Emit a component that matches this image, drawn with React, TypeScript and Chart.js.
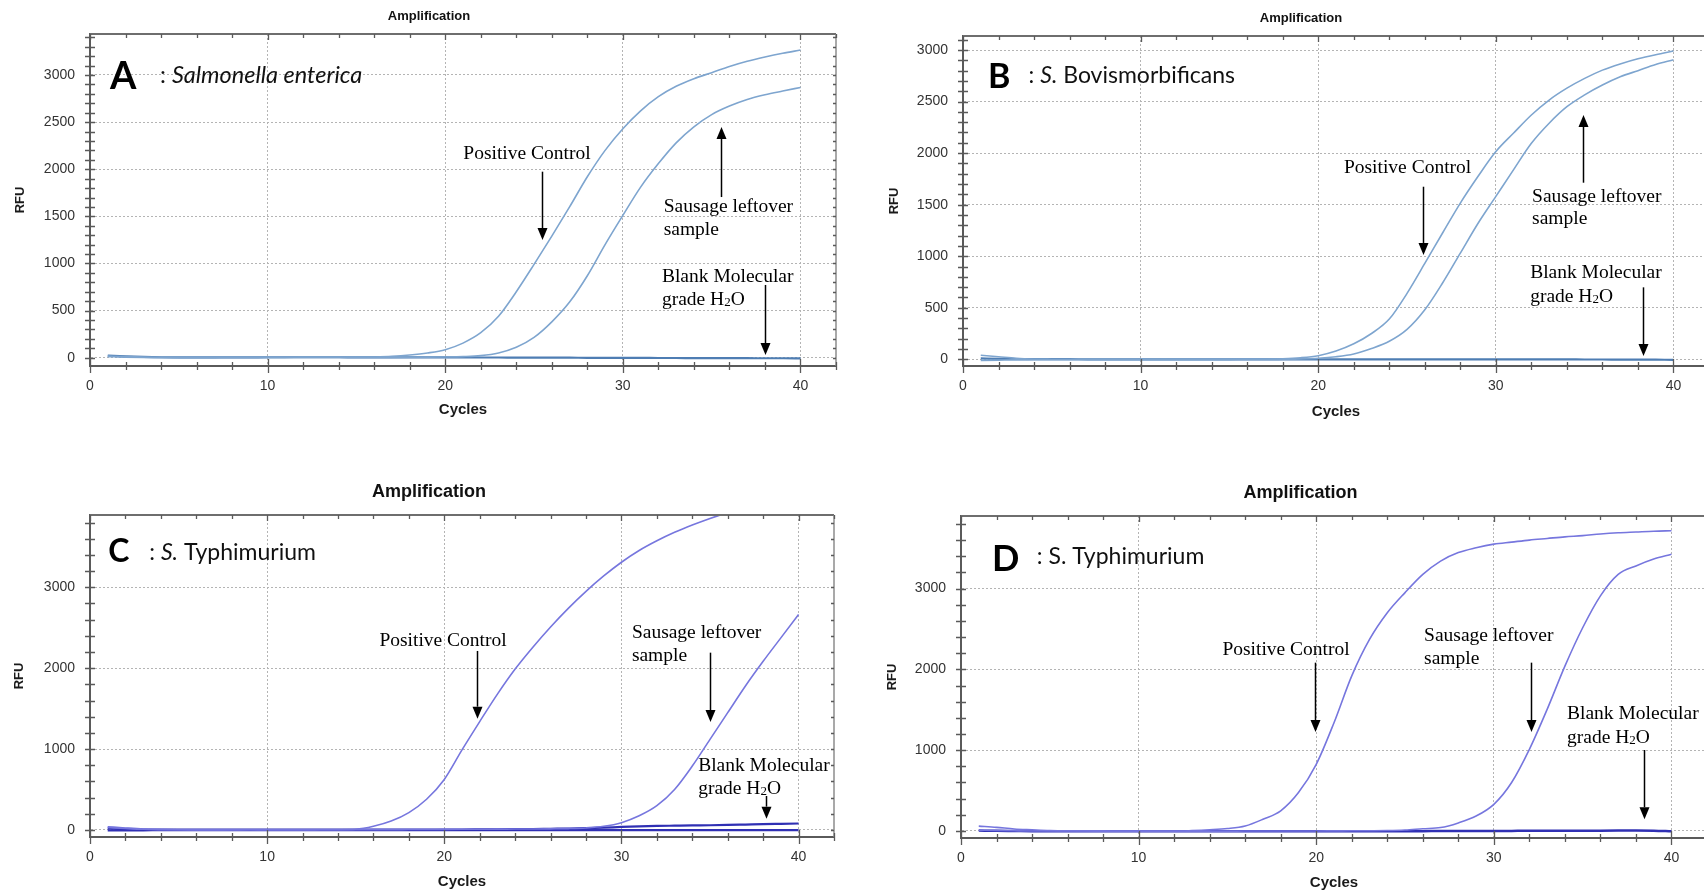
import React, { useEffect, useRef } from "react";
import { Chart, registerables } from "chart.js";

Chart.register(...registerables);

// ---------------- DATA ----------------
const cycles = [1, 2, 3, 4, 5, 6, 7, 8, 9, 10, 11, 12, 13, 14, 15, 16, 17, 18, 19, 20, 21, 22, 23, 24, 25, 26, 27, 28, 29, 30, 31, 32, 33, 34, 35, 36, 37, 38, 39, 40];

const xTickValues = [0, 10, 20, 30, 40];
const yTicksAB = [0, 500, 1000, 1500, 2000, 2500, 3000];
const yTicksCD = [0, 1000, 2000, 3000];

// Panel A: Salmonella enterica
const aPositive = [18, 12, 8, 5, 4, 3, 3, 3, 4, 4, 4, 5, 5, 5, 6, 8, 14, 28, 50, 85, 155, 265, 440, 700, 990, 1290, 1600, 1920, 2200, 2430, 2620, 2770, 2880, 2960, 3025, 3090, 3145, 3190, 3230, 3265];
const aSausage = [12, 6, 2, 0, 0, 1, 1, 2, 2, 2, 2, 3, 3, 3, 3, 3, 4, 5, 6, 8, 12, 22, 50, 110, 215, 380, 590, 870, 1200, 1510, 1810, 2060, 2280, 2450, 2580, 2670, 2740, 2790, 2830, 2868];
const aBlank = [22, 14, 8, 5, 4, 3, 3, 4, 4, 5, 5, 5, 5, 5, 4, 4, 4, 4, 4, 3, 3, 2, 2, 1, 1, 0, 0, -1, -1, -2, -2, -3, -3, -4, -4, -5, -5, -6, -6, -7];

// Panel B: S. Bovismorbificans
const bPositive = [40, 25, 10, 3, 1, 0, 0, 0, 0, 0, 0, 0, 0, 1, 1, 2, 3, 6, 15, 35, 80, 150, 250, 390, 640, 930, 1225, 1515, 1775, 2015, 2195, 2370, 2515, 2630, 2725, 2805, 2865, 2915, 2955, 2990];
const bSausage = [-10, -8, -6, -5, -5, -4, -4, -4, -4, -4, -4, -3, -3, -3, -3, -2, -2, 0, 3, 10, 25, 52, 105, 175, 290, 480, 740, 1030, 1320, 1580, 1840, 2095, 2290, 2450, 2565, 2660, 2740, 2800, 2860, 2905];
const bBlank = [8, 5, 3, 2, 1, 1, 0, 0, 0, 0, 0, 0, 0, 0, 0, 0, 0, 0, 0, 0, 0, 0, 0, 0, 0, 0, 0, 0, 0, 0, 0, 0, -1, -1, -2, -2, -3, -3, -4, -5];

// Panel C: S. Typhimurium
const cPositive = [40, 25, 12, 5, 2, 1, 1, 2, 2, 1, 1, 1, 2, 3, 8, 45, 110, 215, 380, 625, 990, 1340, 1680, 1990, 2260, 2510, 2740, 2950, 3140, 3310, 3455, 3575, 3680, 3770, 3850, 3925, 3990, 4045, 4090, 4125];
const cSausage = [30, 18, 8, 4, 2, 1, 1, 1, 2, 2, 2, 3, 3, 3, 3, 4, 4, 5, 6, 7, 8, 9, 10, 11, 12, 14, 17, 25, 45, 90, 175, 300, 500, 790, 1120, 1450, 1780, 2085, 2375, 2665];
const cBlank = [20, 10, 5, 3, 3, 3, 3, 3, 3, 3, 3, 4, 4, 4, 4, 5, 5, 5, 6, 6, 6, 7, 8, 10, 12, 15, 18, 22, 28, 38, 45, 50, 53, 56, 58, 62, 67, 72, 76, 80];
const cBlank2 = [-5, -4, -4, -3, -3, -3, -3, -2, -2, -2, -2, -2, -2, -2, -2, -2, -2, -2, -2, -2, -2, -2, -2, -2, -2, -2, -2, -2, -2, -2, -2, -2, -2, -2, -2, -2, -2, -2, -2, -2];

// Panel D: S. Typhimurium
const dPositive = [60, 45, 25, 15, 6, 2, 1, 1, 0, 0, 0, -1, 5, 15, 30, 62, 145, 250, 475, 825, 1340, 1920, 2370, 2700, 2950, 3175, 3340, 3445, 3505, 3550, 3575, 3600, 3620, 3640, 3655, 3675, 3690, 3700, 3710, 3715];
const dSausage = [10, 5, 2, 0, 0, -1, -1, -2, -2, -2, -2, -2, -2, -2, -2, -1, -1, 0, 0, 0, 1, 2, 3, 5, 12, 28, 42, 100, 185, 330, 600, 1010, 1505, 2040, 2515, 2910, 3175, 3280, 3365, 3425];
const dBlank = [5, 2, 0, -2, -3, -3, -3, -3, -3, -3, -3, -3, -3, -3, -3, -3, -3, -3, -3, -3, -3, -3, -3, -2, -2, -2, -1, -1, 0, 0, 1, 2, 2, 3, 3, 4, 5, 6, 4, -4];

// ---------------- STYLE ----------------
const SERIF = '"Liberation Serif", "Times New Roman", serif';
const SANS = '"Liberation Sans", Arial, sans-serif';
const LABEL = 'Lato, "Open Sans", sans-serif';
const GRID = "#b4b4b4";
const AXIS = "#5a5a5a";

type Seg = { t: string; italic?: boolean; small?: boolean };
type Note = { lines: Seg[][]; x: number; ys: number[]; align: "left" | "center" };
type Arrow = { x: number; from: number; to: number };
type Series = { values: number[]; color: string; width: number };

type Panel = {
  left: number; top: number; w: number; h: number;
  L: number; T: number; R: number; B: number;
  yMin: number; yMax: number; yTicks: number[]; yMinor: number;
  series: Series[];
  title: { x: number; y: number; size: number };
  letter: { t: string; x: number; y: number; size: number };
  species: { x: number; y: number; size: number; segs: Seg[] };
  notes: Note[];
  arrows: Arrow[];
  rfuPad: number; cyclesPad: number;
};

const h2o: Seg[] = [{ t: "grade H" }, { t: "2", small: true }, { t: "O" }];
const noteSet = (pc: [number, number], s: [number, number, number], bl: [number, number, number]): Note[] => [
  { lines: [[{ t: "Positive Control" }]], x: pc[0], ys: [pc[1]], align: "center" },
  { lines: [[{ t: "Sausage leftover" }], [{ t: "sample" }]], x: s[0], ys: [s[1], s[2]], align: "left" },
  { lines: [[{ t: "Blank Molecular" }], h2o], x: bl[0], ys: [bl[1], bl[2]], align: "left" },
];

const blueAB = "#7ea5cf";
const blankAB = "#4e7db3";
const purple = "#7676de";
const blankCD = "#3030b4";

const panels: Panel[] = [
  {
    left: 0, top: 0, w: 852, h: 446, L: 90, T: 34, R: 836, B: 366,
    yMin: -88, yMax: 3435, yTicks: yTicksAB, yMinor: 100,
    series: [
      { values: aPositive, color: blueAB, width: 1.6 },
      { values: aSausage, color: blueAB, width: 1.6 },
      { values: aBlank, color: blankAB, width: 2.2 },
    ],
    title: { x: 429, y: 16.7, size: 13 },
    letter: { t: "A", x: 110, y: 89, size: 38 },
    species: { x: 160, y: 83, size: 23.5, segs: [{ t: ": " }, { t: "Salmonella enterica", italic: true }] },
    notes: noteSet([24.6, 2105], [32.3, 1549, 1302], [32.2, 806, 559]),
    arrows: [{ x: 25.44, from: 1974, to: 1249 }, { x: 35.54, from: 1705, to: 2448 }, { x: 38.03, from: 772, to: 29 }],
    rfuPad: 12.7, cyclesPad: 27,
  },
  {
    left: 852, top: 0, w: 860, h: 446, L: 111, T: 36, R: 857, B: 366,
    yMin: -65, yMax: 3136, yTicks: yTicksAB, yMinor: 100,
    series: [
      { values: bPositive, color: blueAB, width: 1.6 },
      { values: bSausage, color: blueAB, width: 1.6 },
      { values: bBlank, color: blankAB, width: 2.2 },
    ],
    title: { x: 449, y: 18.3, size: 13 },
    letter: { t: "B", x: 136, y: 88, size: 34 },
    species: { x: 176.6, y: 83, size: 23, segs: [{ t: ": " }, { t: "S.", italic: true }, { t: " Bovismorbificans" }] },
    notes: noteSet([25.03, 1804], [32.04, 1529, 1312], [31.93, 786, 559]),
    arrows: [{ x: 25.87, from: 1674, to: 1012 }, { x: 34.89, from: 1713, to: 2370 }, { x: 38.31, from: 698, to: 32 }],
    rfuPad: 34.2, cyclesPad: 25.3,
  },
  {
    left: 0, top: 446, w: 852, h: 446, L: 90, T: 69, R: 834, B: 391,
    yMin: -87, yMax: 3894, yTicks: yTicksCD, yMinor: 200,
    series: [
      { values: cPositive, color: purple, width: 1.6 },
      { values: cSausage, color: purple, width: 1.6 },
      { values: cBlank2, color: blankCD, width: 2.2 },
      { values: cBlank, color: blankCD, width: 2.2 },
    ],
    title: { x: 429, y: 45.7, size: 18 },
    letter: { t: "C", x: 108.3, y: 115.7, size: 32 },
    species: { x: 149.3, y: 114, size: 23, segs: [{ t: ": " }, { t: "S.", italic: true }, { t: " Typhimurium" }] },
    notes: noteSet([19.93, 2274], [30.59, 2377, 2089], [34.33, 729, 441]),
    arrows: [{ x: 21.86, from: 2213, to: 1376 }, { x: 35.0, from: 2192, to: 1335 }, { x: 38.16, from: 420, to: 140 }],
    rfuPad: 11.2, cyclesPad: 1,
  },
  {
    left: 852, top: 446, w: 860, h: 446, L: 109, T: 70, R: 855, B: 392,
    yMin: -87, yMax: 3898, yTicks: yTicksCD, yMinor: 200,
    series: [
      { values: dPositive, color: purple, width: 1.6 },
      { values: dSausage, color: purple, width: 1.6 },
      { values: dBlank, color: blankCD, width: 2.5 },
    ],
    title: { x: 448.4, y: 46.7, size: 18 },
    letter: { t: "D", x: 140, y: 125, size: 36 },
    species: { x: 184.8, y: 118.3, size: 23, segs: [{ t: ": S. Typhimurium" }] },
    notes: noteSet([18.3, 2174], [26.07, 2351, 2063], [34.12, 1382, 1093]),
    arrows: [{ x: 19.92, from: 2083, to: 1225 }, { x: 32.07, from: 2083, to: 1225 }, { x: 38.46, from: 1002, to: 145 }],
    rfuPad: 32.2, cyclesPad: 0.5,
  },
];

// ---------------- DRAWING HELPERS ----------------
function drawSegs(ctx: CanvasRenderingContext2D, segs: Seg[], x: number, y: number, size: number, family: string, align: "left" | "center") {
  const fontFor = (s: Seg) => `${s.italic ? "italic " : ""}${s.small ? Math.round(size * 0.68) : size}px ${family}`;
  let total = 0;
  for (const s of segs) { ctx.font = fontFor(s); total += ctx.measureText(s.t).width; }
  let cx = align === "center" ? x - total / 2 : x;
  ctx.textAlign = "left";
  ctx.textBaseline = "alphabetic";
  for (const s of segs) {
    ctx.font = fontFor(s);
    ctx.fillText(s.t, cx, y + (s.small ? 1 : 0));
    cx += ctx.measureText(s.t).width;
  }
}

function makeDecorPlugin(p: Panel) {
  return {
    id: "decor",
    afterDatasetsDraw(chart: any) {
      const ctx: CanvasRenderingContext2D = chart.ctx;
      const xs = chart.scales.x;
      const ys = chart.scales.y;
      const { left, right, top, bottom } = chart.chartArea;
      ctx.save();
      // top and right frame
      ctx.strokeStyle = "#6e6e6e";
      ctx.lineWidth = 2;
      ctx.beginPath();
      ctx.moveTo(left, top);
      ctx.lineTo(right, top);
      ctx.stroke();
      ctx.strokeStyle = "#8c8c8c";
      ctx.lineWidth = 1.5;
      ctx.beginPath();
      ctx.moveTo(right, top);
      ctx.lineTo(right, bottom);
      ctx.stroke();
      // x ticks (bottom & top)
      ctx.strokeStyle = AXIS;
      ctx.lineWidth = 1.3;
      for (let c = 0; c <= 42; c += 2) {
        const px = Math.round(xs.getPixelForValue(c)) + 0.5;
        const major = c % 10 === 0;
        ctx.beginPath();
        ctx.moveTo(px, bottom - (major ? 7 : 4));
        ctx.lineTo(px, bottom + (major ? 7 : 4));
        ctx.moveTo(px, top);
        ctx.lineTo(px, top + (major ? 6 : 4));
        ctx.stroke();
      }
      // y ticks (left & right)
      for (let v = 0; v <= p.yMax; v += p.yMinor) {
        const py = Math.round(ys.getPixelForValue(v)) + 0.5;
        ctx.beginPath();
        ctx.moveTo(left - 5, py);
        ctx.lineTo(left + 5, py);
        ctx.moveTo(right - 3, py);
        ctx.lineTo(right, py);
        ctx.stroke();
      }
      ctx.restore();
    },
    afterDraw(chart: any) {
      const ctx: CanvasRenderingContext2D = chart.ctx;
      const xs = chart.scales.x;
      const ys = chart.scales.y;
      ctx.save();
      // title
      ctx.fillStyle = "#111";
      ctx.font = `bold ${p.title.size}px ${SANS}`;
      ctx.textAlign = "center";
      ctx.textBaseline = "middle";
      ctx.fillText("Amplification", p.title.x, p.title.y);
      // panel letter and organism
      ctx.fillStyle = "#000";
      ctx.font = `bold ${p.letter.size}px ${LABEL}`;
      ctx.textAlign = "left";
      ctx.textBaseline = "alphabetic";
      ctx.fillText(p.letter.t, p.letter.x, p.letter.y);
      ctx.fillStyle = "#111";
      drawSegs(ctx, p.species.segs, p.species.x, p.species.y, p.species.size, LABEL, "left");
      // annotations
      ctx.fillStyle = "#000";
      for (const n of p.notes) {
        const px = xs.getPixelForValue(n.x);
        n.lines.forEach((segs, i) => {
          drawSegs(ctx, segs, px, ys.getPixelForValue(n.ys[i]), 19.5, SERIF, n.align);
        });
      }
      ctx.strokeStyle = "#000";
      ctx.lineWidth = 1.5;
      for (const a of p.arrows) {
        const px = Math.round(xs.getPixelForValue(a.x)) + 0.5;
        const y1 = ys.getPixelForValue(a.from);
        const y2 = ys.getPixelForValue(a.to);
        const dir = Math.sign(y2 - y1);
        const hl = 12, hw = 5;
        ctx.beginPath();
        ctx.moveTo(px, y1);
        ctx.lineTo(px, y2 - dir * hl);
        ctx.stroke();
        ctx.beginPath();
        ctx.moveTo(px, y2);
        ctx.lineTo(px - hw, y2 - dir * hl);
        ctx.lineTo(px + hw, y2 - dir * hl);
        ctx.closePath();
        ctx.fill();
      }
      ctx.restore();
    },
  };
}

function buildConfig(p: Panel): any {
  return {
    type: "line",
    data: {
      datasets: p.series.map((s) => ({
        data: cycles.map((c, i) => ({ x: c, y: s.values[i] })),
        borderColor: s.color,
        borderWidth: s.width,
        pointRadius: 0,
        fill: false,
        cubicInterpolationMode: "monotone",
      })),
    },
    options: {
      animation: false,
      responsive: false,
      devicePixelRatio: 1,
      events: [],
      layout: { padding: { left: 0, right: p.w - p.R, top: p.T, bottom: 0 } },
      plugins: { legend: { display: false }, tooltip: { enabled: false }, title: { display: false } },
      scales: {
        x: {
          type: "linear",
          min: 0,
          max: 42,
          afterBuildTicks: (s: any) => { s.ticks = xTickValues.map((v) => ({ value: v })); },
          afterFit: (s: any) => { s.height = p.h - p.B; },
          grid: {
            color: (c: any) => (c.tick && c.tick.value === 0 ? "rgba(0,0,0,0)" : GRID),
            lineWidth: 1,
            drawTicks: false,
          },
          border: { display: true, color: AXIS, width: 2, dash: [2, 2] },
          ticks: { padding: 12, color: "#333", font: { family: SANS, size: 14 }, maxRotation: 0, autoSkip: false, callback: (v: any) => String(v) },
          title: { display: true, text: "Cycles", color: "#1a1a1a", font: { family: SANS, size: 15, weight: "bold" }, padding: { top: 0, bottom: p.cyclesPad } },
        },
        y: {
          type: "linear",
          min: p.yMin,
          max: p.yMax,
          afterBuildTicks: (s: any) => { s.ticks = p.yTicks.map((v) => ({ value: v })); },
          afterFit: (s: any) => { s.width = p.L; },
          grid: { color: GRID, lineWidth: 1, drawTicks: false },
          border: { display: true, color: AXIS, width: 2, dash: [2, 2] },
          ticks: { padding: 15, color: "#333", font: { family: SANS, size: 14 }, autoSkip: false, callback: (v: any) => String(v) },
          title: { display: true, text: "RFU", color: "#1a1a1a", font: { family: SANS, size: 13, weight: "bold" }, padding: { top: p.rfuPad, bottom: 0 } },
        },
      },
    },
    plugins: [makeDecorPlugin(p)],
  };
}

function PanelChart({ panel }: { panel: Panel }) {
  const ref = useRef<HTMLCanvasElement>(null);
  useEffect(() => {
    const canvas = ref.current;
    if (!canvas) return;
    const chart = new Chart(canvas, buildConfig(panel));
    return () => chart.destroy();
  }, [panel]);
  return (
    <canvas
      ref={ref}
      width={panel.w}
      height={panel.h}
      style={{ position: "absolute", left: panel.left, top: panel.top, width: panel.w, height: panel.h }}
    />
  );
}

export default function App() {
  return (
    <div style={{ position: "fixed", left: 0, top: 0, width: 1704, height: 892, overflow: "hidden", background: "#fff" }}>
      {panels.map((p, i) => (
        <PanelChart key={i} panel={p} />
      ))}
    </div>
  );
}
